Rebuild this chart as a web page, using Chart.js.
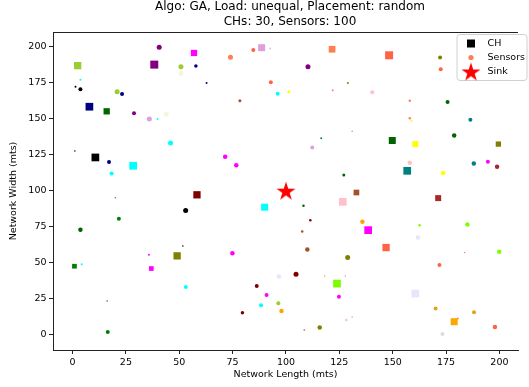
<!DOCTYPE html>
<html>
<head>
<meta charset="utf-8">
<script src="https://cdn.jsdelivr.net/npm/chart.js@4/dist/chart.umd.min.js"></script>
<style>
  html, body { margin: 0; padding: 0; background: #fff; }
  #wrap { width: 529px; height: 387px; position: relative; }
</style>
</head>
<body>
<div id="wrap"><canvas id="c" width="529" height="387"></canvas></div>
<script>
// ---- Data ----
const titleLines = ['Algo: GA, Load: unequal, Placement: random', 'CHs: 30, Sensors: 100'];
const xLabel = 'Network Length (mts)';
const yLabel = 'Network Width (mts)';
const xTicks = [0, 25, 50, 75, 100, 125, 150, 175, 200];
const yTicks = [0, 25, 50, 75, 100, 125, 150, 175, 200];
const seriesNames = ['CH', 'Sensors', 'Sink'];

// Cluster heads
const chX = [2.4, 56.9, 38.3, 7.9, 16.0, 88.6, 121.6, 148.3, 149.8, 160.6, 199.5, 10.7, 28.4, 58.3, 49.0, 90.0, 126.6, 156.8, 133.0, 171.3, 138.5, 146.9, 0.9, 36.9, 123.9, 160.6, 178.8];
const chY = [187.0, 195.8, 187.7, 158.4, 155.2, 199.5, 198.4, 194.2, 134.9, 132.4, 132.4, 123.1, 117.3, 97.1, 54.6, 88.5, 92.2, 113.8, 98.7, 94.8, 72.5, 60.4, 47.4, 45.8, 35.3, 28.4, 8.8];
// Sensors
const sensorX = [40.6, 50.8, 57.8, 50.8, 3.7, 1.4, 3.7, 20.9, 23.2, 28.8, 36.0, 39.8, 43.9, 45.9, 62.8, 74.0, 84.7, 92.6, 110.3, 92.9, 96.1, 101.3, 129.0, 121.9, 78.4, 116.5, 112.3, 131.0, 172.2, 172.5, 140.4, 158.0, 175.7, 158.0, 158.8, 186.4, 178.8, 1.1, 17.1, 18.3, 20.0, 53.0, 21.7, 3.7, 51.7, 35.8, 71.5, 76.7, 127.1, 108.2, 111.4, 107.6, 110.0, 74.9, 128.9, 158.0, 173.6, 188.0, 194.6, 198.9, 135.8, 162.6, 185.0, 161.8, 183.7, 199.9, 4.3, 53.1, 16.2, 16.5, 96.7, 104.7, 118.1, 127.8, 86.3, 90.9, 124.8, 88.3, 96.4, 97.9, 79.6, 128.3, 131.0, 108.6, 115.8, 171.9, 170.1, 188.1, 180.5, 197.9, 173.3];
const sensorY = [199.8, 186.3, 186.8, 181.6, 177.2, 172.3, 170.5, 168.9, 167.2, 153.8, 149.8, 149.8, 153.1, 133.1, 174.9, 192.8, 197.9, 199.0, 186.3, 175.4, 167.5, 168.9, 174.9, 169.8, 162.6, 136.4, 130.0, 141.4, 192.6, 184.4, 168.4, 162.6, 161.7, 150.3, 148.4, 149.4, 138.4, 127.5, 119.9, 112.0, 95.0, 86.2, 80.4, 72.7, 61.4, 55.3, 123.6, 117.6, 110.8, 89.5, 79.4, 71.5, 59.0, 56.4, 53.4, 119.4, 112.2, 118.9, 120.1, 116.6, 78.3, 76.0, 76.4, 67.4, 56.9, 57.4, 48.8, 33.0, 23.2, 1.6, 40.2, 41.8, 40.6, 40.6, 33.7, 27.4, 26.2, 20.2, 21.6, 16.2, 15.1, 10.0, 12.1, 3.0, 4.7, 48.3, 17.9, 15.3, 11.1, 5.1, 0.2];
// Sink
const sinkX = [100];
const sinkY = [100];

// ---- Marker styling (separate from data) ----
const chSizes = [7.3, 6.3, 8, 7.7, 6.3, 7, 6.7, 8, 7, 6, 5.3, 7.7, 7.7, 7.3, 7.3, 7, 7.7, 7.7, 5.7, 6, 7.7, 7.3, 4.7, 4.7, 7.7, 7.7, 7];
const chColors = ['yellowgreen', 'magenta', 'purple', 'navy', 'darkgreen', 'plum', 'coral', 'tomato', 'darkgreen', 'yellow', 'olive', 'black', 'cyan', 'maroon', 'olive', 'cyan', 'pink', 'teal', 'sienna', 'brown', 'magenta', 'tomato', 'green', 'magenta', 'lawngreen', 'lavender', 'orange'];
const sensorSizes = [5, 5, 3.5, 5, 2, 2, 4, 5, 4, 4, 5, 2, 5, 5, 2, 5, 4, 2, 5, 4, 4, 3, 2, 2, 3, 2, 4, 1.5, 4, 4, 4, 2.5, 4, 2.5, 2, 4, 4.5, 1.5, 4, 4, 1.5, 5, 4, 4.5, 1.5, 2, 4.5, 4.5, 3, 2.5, 2.5, 2.5, 4.5, 4.5, 5, 4.5, 4.5, 4.5, 4, 4.5, 4.5, 2.5, 4.5, 4.5, 1.5, 4.5, 2, 4, 1.5, 4, 4.5, 5, 1.5, 1.5, 4, 4, 4, 4, 4, 4.5, 3.5, 2.5, 1.5, 2, 4.5, 4, 4, 4, 2, 4.5, 4];
const sensorColors = ['purple', 'yellowgreen', 'navy', 'beige', 'cyan', 'black', 'black', 'yellowgreen', 'navy', 'purple', 'plum', 'cyan', 'beige', 'cyan', 'navy', 'coral', 'tomato', '#c8c8dc', 'purple', 'tomato', 'cyan', 'yellow', 'olive', 'salmon', 'sienna', 'teal', 'plum', 'rosybrown', 'olive', 'tomato', 'pink', 'salmon', 'darkgreen', 'salmon', 'yellow', 'teal', 'darkgreen', 'black', 'navy', 'cyan', 'slateblue', 'black', 'green', 'darkgreen', 'black', 'magenta', 'magenta', 'magenta', 'darkgreen', 'darkgreen', 'maroon', 'sienna', 'sienna', 'magenta', 'olive', 'pink', 'yellow', 'teal', 'magenta', 'brown', 'orange', 'lawngreen', 'chartreuse', 'lavender', 'salmon', 'chartreuse', 'cyan', 'cyan', 'green', 'green', 'lavender', 'maroon', 'yellowgreen', 'violet', 'maroon', 'magenta', 'magenta', 'cyan', 'yellowgreen', 'orange', 'maroon', 'pink', 'violet', 'salmon', 'olive', 'tomato', 'goldenrod', 'goldenrod', 'goldenrod', 'tomato', 'gainsboro'];

const FONT = '"DejaVu Sans", sans-serif';
const BASE = 9.5;

function makeStar(r, color) {
  const c = document.createElement('canvas');
  const s = Math.ceil(r * 2 + 2);
  c.width = s; c.height = s;
  const g = c.getContext('2d');
  g.fillStyle = color;
  g.beginPath();
  for (let i = 0; i < 10; i++) {
    const a = -Math.PI / 2 + i * Math.PI / 5;
    const rr = i % 2 === 0 ? r : r * 0.381966;
    const px = s / 2 + rr * Math.cos(a), py = s / 2 + 1 + rr * Math.sin(a);
    if (i === 0) g.moveTo(px, py); else g.lineTo(px, py);
  }
  g.closePath();
  g.fill();
  return c;
}
const starImg = makeStar(10, '#ff0000');

const toPts = (xs, ys) => xs.map((x, i) => ({ x: x, y: ys[i] }));

const decorPlugin = {
  id: 'decor',
  afterDraw(chart) {
    const ctx = chart.ctx;
    const a = chart.chartArea;
    ctx.save();
    // top spine
    ctx.strokeStyle = '#222';
    ctx.lineWidth = 1;
    ctx.beginPath();
    ctx.moveTo(a.left, a.top + 0.5);
    ctx.lineTo(a.right, a.top + 0.5);
    ctx.stroke();
    // title
    ctx.fillStyle = '#000';
    ctx.font = '12px ' + FONT;
    ctx.textAlign = 'center';
    ctx.textBaseline = 'middle';
    const cx = 290;
    ctx.fillText(titleLines[0], cx, 7);
    ctx.fillText(titleLines[1], cx, 22);
    // legend
    const bx = 457, by = 34.5, bw = 70, bh = 46, rad = 3;
    ctx.beginPath();
    ctx.moveTo(bx + rad, by);
    ctx.lineTo(bx + bw - rad, by);
    ctx.quadraticCurveTo(bx + bw, by, bx + bw, by + rad);
    ctx.lineTo(bx + bw, by + bh - rad);
    ctx.quadraticCurveTo(bx + bw, by + bh, bx + bw - rad, by + bh);
    ctx.lineTo(bx + rad, by + bh);
    ctx.quadraticCurveTo(bx, by + bh, bx, by + bh - rad);
    ctx.lineTo(bx, by + rad);
    ctx.quadraticCurveTo(bx, by, bx + rad, by);
    ctx.closePath();
    ctx.fillStyle = 'rgba(255,255,255,0.8)';
    ctx.fill();
    ctx.strokeStyle = '#d0d0d0';
    ctx.stroke();
    const mx = 471;
    const rows = [43.5, 57.5, 71.5];
    // CH marker
    ctx.fillStyle = '#000';
    ctx.fillRect(mx - 4, rows[0] - 4, 8, 8);
    // Sensors marker
    ctx.fillStyle = 'coral';
    ctx.beginPath();
    ctx.arc(mx, rows[1], 2.6, 0, Math.PI * 2);
    ctx.fill();
    // Sink marker
    ctx.drawImage(starImg, mx - starImg.width / 2, rows[2] - starImg.height / 2);
    ctx.fillStyle = '#000';
    ctx.textAlign = 'left';
    ctx.font = BASE + 'px ' + FONT;
    seriesNames.forEach((n, i) => ctx.fillText(n, 487.5, rows[i]));
    ctx.restore();
  }
};

const axisCommon = (ticksArr) => ({
  type: 'linear',
  grid: { display: true, drawOnChartArea: false, drawTicks: true, tickLength: 4, color: '#222', lineWidth: 1 },
  border: { display: true, color: '#222', width: 1 },
  afterBuildTicks: (scale) => { scale.ticks = ticksArr.map(v => ({ value: v })); },
});

new Chart(document.getElementById('c'), {
  type: 'scatter',
  data: {
    datasets: [
      {
        label: seriesNames[2],
        data: toPts(sinkX, sinkY),
        pointStyle: starImg,
        pointRadius: 10,
        order: 0
      },
      {
        label: seriesNames[1],
        data: toPts(sensorX, sensorY),
        pointStyle: 'circle',
        pointRadius: (c) => sensorSizes[c.dataIndex] / 2,
        pointBackgroundColor: (c) => sensorColors[c.dataIndex],
        pointBorderColor: (c) => sensorColors[c.dataIndex],
        pointBorderWidth: 0,
        order: 1
      },
      {
        label: seriesNames[0],
        data: toPts(chX, chY),
        pointStyle: 'rect',
        pointRadius: (c) => chSizes[c.dataIndex] / Math.SQRT2,
        pointBackgroundColor: (c) => chColors[c.dataIndex],
        pointBorderColor: (c) => chColors[c.dataIndex],
        pointBorderWidth: 0,
        order: 2
      }
    ]
  },
  options: {
    responsive: false,
    animation: false,
    events: [],
    layout: { padding: { top: 32, right: 0, left: 0, bottom: 0 } },
    plugins: { legend: { display: false }, title: { display: false }, tooltip: { enabled: false } },
    scales: {
      x: Object.assign(axisCommon(xTicks), {
        position: 'bottom',
        min: -9.15, max: 208.7,
        ticks: { font: { family: FONT, size: BASE }, color: '#000', padding: 2.5, maxRotation: 0, autoSkip: false },
        title: { display: true, text: xLabel, font: { family: FONT, size: BASE }, color: '#000', padding: { top: 0, bottom: 7 } },
        afterFit: (s) => { s.height = 37; }
      }),
      y: Object.assign(axisCommon(yTicks), {
        position: 'left',
        min: -10.9, max: 210.4,
        ticks: { font: { family: FONT, size: BASE }, color: '#000', padding: 2.5, autoSkip: false },
        title: { display: true, text: yLabel, font: { family: FONT, size: BASE }, color: '#000', padding: { top: 8, bottom: 0 } },
        afterFit: (s) => { s.width = 53; }
      })
    }
  },
  plugins: [decorPlugin]
});
</script>
</body>
</html>
